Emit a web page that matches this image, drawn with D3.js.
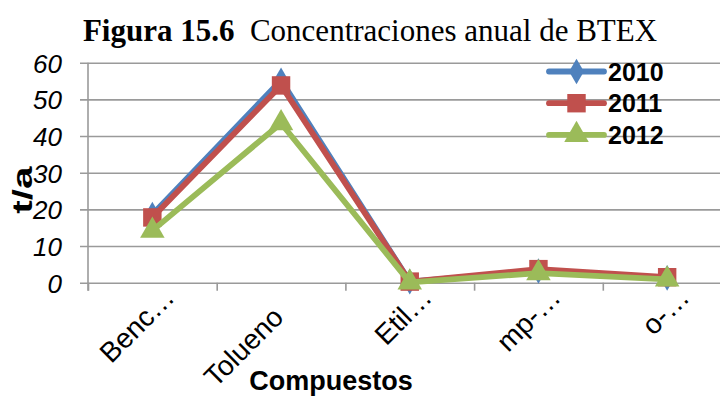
<!DOCTYPE html>
<html>
<head>
<meta charset="utf-8">
<script src="https://cdn.jsdelivr.net/npm/d3@7"></script>
<style>
  html, body { margin: 0; padding: 0; background: #fff; }
  svg { display: block; }
</style>
</head>
<body>
<svg id="chart" width="720" height="398"></svg>
<script>
// BTEX annual concentrations (t/a) by compound
const categories = ["Benc…", "Tolueno", "Etil…", "mp-…", "o-…"];
const seriesNames = ["2010", "2011", "2012"];
const values2010 = [18.6, 55.2, 0.3, 3.2, 1.3];
const values2011 = [17.8, 53.8, 0.3, 3.7, 1.5];
const values2012 = [14.2, 43.5, 0.1, 2.6, 0.9];
const yTicks = [0, 10, 20, 30, 40, 50, 60];

const colors = ["#4F81BD", "#C0504D", "#9BBB59"];
const symbols = [d3.symbolDiamond, d3.symbolSquare, d3.symbolTriangle];
const symbolSizes = [190, 340, 260];

const series = seriesNames.map((name, i) => ({
  name,
  values: [values2010, values2011, values2012][i],
  color: colors[i],
  symbol: symbols[i],
  size: symbolSizes[i]
}));

const svg = d3.select("#chart");
const plot = { left: 88, right: 731.5, top: 62.7, bottom: 282.7 };

const x = d3.scaleBand().domain(categories).range([plot.left, plot.right]);
const xEdges = d3.scaleLinear().domain([0, categories.length]).range([plot.left, plot.right]);
const y = d3.scaleLinear().domain([0, 60]).range([plot.bottom, plot.top]);

const grid = "#9a9a9a";

// Horizontal gridlines with outer tick marks and italic value labels
const yAxis = svg.append("g")
  .attr("transform", `translate(${plot.left},0)`)
  .call(d3.axisLeft(y).tickValues(yTicks).tickSize(-(720 - plot.left)).tickPadding(26));
yAxis.select(".domain").remove();
yAxis.selectAll(".tick line")
  .attr("x1", -8)
  .attr("stroke", grid).attr("stroke-width", 1.6);
yAxis.selectAll(".tick text")
  .attr("fill", "#000")
  .attr("font-family", "Liberation Sans, Arial, sans-serif")
  .attr("font-style", "italic")
  .attr("font-size", 26)
  .attr("dy", "0.36em");

// Vertical axis line
svg.append("line")
  .attr("x1", plot.left).attr("x2", plot.left)
  .attr("y1", plot.top).attr("y2", plot.bottom + 8)
  .attr("stroke", grid).attr("stroke-width", 1.6);

// Category boundary tick marks along the baseline
const xAxis = svg.append("g")
  .attr("transform", `translate(0,${plot.bottom})`)
  .call(d3.axisBottom(xEdges).tickValues(d3.range(0, categories.length + 1)).tickSize(8).tickFormat(""));
xAxis.select(".domain").remove();
xAxis.selectAll(".tick line").attr("stroke", grid).attr("stroke-width", 1.6);

// Rotated category labels; abbreviated names sit further along their baseline
svg.append("g").selectAll("text")
  .data(categories)
  .join("text")
  .attr("transform", d => {
    const cx = x(d) + x.bandwidth() / 2;
    const lead = d.endsWith("…") ? 28 : 0;
    const ax = cx + 4 + lead * Math.SQRT1_2;
    const ay = 319 - lead * Math.SQRT1_2;
    return `translate(${ax},${ay}) rotate(-45)`;
  })
  .attr("text-anchor", "end")
  .attr("font-family", "Liberation Sans, Arial, sans-serif")
  .attr("font-size", 28)
  .text(d => d);

// Series lines and markers
const line = d3.line()
  .x((d, i) => x(categories[i]) + x.bandwidth() / 2)
  .y(d => y(d));

series.forEach(s => {
  const g = svg.append("g");
  g.append("path")
    .datum(s.values)
    .attr("d", line)
    .attr("fill", "none")
    .attr("stroke", s.color)
    .attr("stroke-width", 5.8)
    .attr("stroke-linejoin", "round");
  g.selectAll("path.marker")
    .data(s.values)
    .join("path")
    .attr("class", "marker")
    .attr("transform", (d, i) => `translate(${x(categories[i]) + x.bandwidth() / 2},${y(d)})`)
    .attr("d", d3.symbol().type(s.symbol).size(s.size))
    .attr("fill", s.color);
});

// Legend
const legend = svg.append("g");
series.forEach((s, i) => {
  const ly = 71.5 + i * 31.7;
  legend.append("line")
    .attr("x1", 549).attr("x2", 604)
    .attr("y1", ly).attr("y2", ly)
    .attr("stroke", s.color).attr("stroke-width", 5.8).attr("stroke-linecap", "round");
  legend.append("path")
    .attr("transform", `translate(576.5,${ly})`)
    .attr("d", d3.symbol().type(s.symbol).size(s.size))
    .attr("fill", s.color);
  legend.append("text")
    .attr("x", 608).attr("y", ly)
    .attr("dy", "0.36em")
    .attr("font-family", "Liberation Sans, Arial, sans-serif")
    .attr("font-weight", "bold")
    .attr("font-size", 25)
    .text(s.name);
});

// Title
const title = svg.append("text")
  .attr("x", 370).attr("y", 41)
  .attr("text-anchor", "middle")
  .attr("font-family", "Liberation Serif, Times New Roman, serif")
  .attr("font-size", 31);
title.append("tspan").attr("font-weight", "bold").text("Figura 15.6");
title.append("tspan").text("\u00a0 Concentraciones anual de BTEX");

// Axis titles (the vertical one is drawn elongated along its reading direction)
svg.append("text")
  .attr("transform", "translate(32,190) rotate(-90) scale(1.5,1)")
  .attr("text-anchor", "middle")
  .attr("font-family", "Liberation Sans, Arial, sans-serif")
  .attr("font-weight", "bold")
  .attr("font-size", 27)
  .text("t/a");

svg.append("text")
  .attr("x", 331).attr("y", 390)
  .attr("text-anchor", "middle")
  .attr("font-family", "Liberation Sans, Arial, sans-serif")
  .attr("font-weight", "bold")
  .attr("font-size", 27)
  .text("Compuestos");
</script>
</body>
</html>
